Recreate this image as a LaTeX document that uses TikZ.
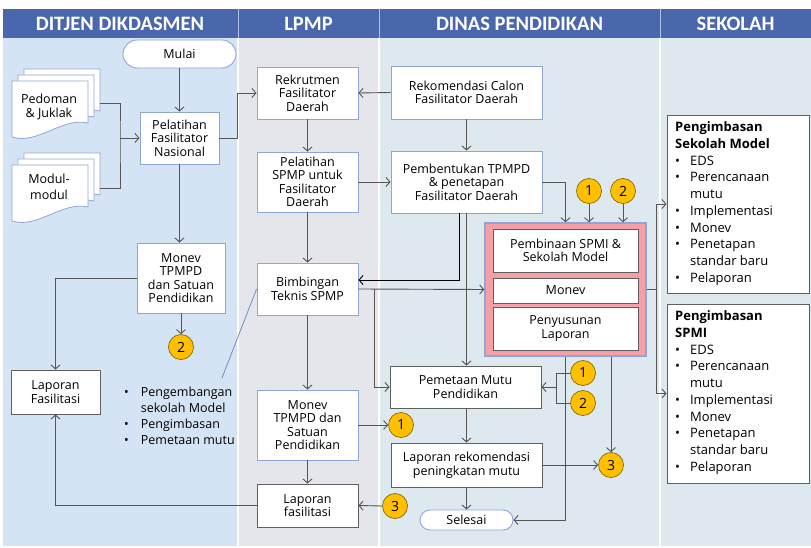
\documentclass[tikz,border=0pt]{standalone}
\usepackage{fontspec}
\setmainfont{Open Sans}
\newfontfamily\hdfont{Carlito}
\usetikzlibrary{arrows.meta,shapes.misc,calc}
\definecolor{hdr}{HTML}{4A66AC}
\definecolor{hdrsep}{HTML}{AFC0E4}
\definecolor{bgA}{HTML}{D5E4F5}
\definecolor{bgB}{HTML}{E4E6EB}
\definecolor{bgC}{HTML}{DDE9EE}
\definecolor{bbord}{HTML}{8FA5D5}
\definecolor{dbord}{HTML}{5F5F5F}
\definecolor{lgrey}{HTML}{555555}
\definecolor{gold}{HTML}{FFC000}
\definecolor{golddk}{HTML}{8C6A00}
\definecolor{pinkf}{HTML}{F5A0A6}
\definecolor{thinblue}{HTML}{6F8BC8}
\newcommand\docpage[2]{%
  \filldraw[fill=white,draw=bbord,line width=0.8pt] (#1,#2) -- ++(76,0) -- ++(0,42)
    .. controls ++(-26,-6) and ++(26,8) .. ++(-76,14) -- cycle;}
\begin{document}
\begin{tikzpicture}[x=1pt,y=-1pt,
  box/.style={draw=bbord,fill=white,line width=0.9pt,align=center,inner sep=0pt,
    font=\fontsize{12.5}{13.5}\selectfont},
  dbox/.style={box,draw=dbord},
  circ/.style={circle,fill=gold,draw=golddk,line width=0.7pt,minimum size=25pt,inner sep=0pt,
    font=\fontsize{14}{14}\selectfont},
  term/.style={rounded rectangle,draw=bbord,fill=white,line width=0.9pt,inner sep=0pt,
    font=\fontsize{12.5}{13.5}\selectfont},
  hd/.style={text=white,font=\hdfont\bfseries\fontsize{20.5}{20.5}\selectfont},
  ln/.style={draw=lgrey,line width=0.9pt},
  arr/.style={ln,-{Straight Barb[length=4pt,width=9pt]}},
  blist/.style={inner sep=0pt,anchor=north west,align=left}
]
\useasboundingbox (0,0) rectangle (811,548);
\fill[white] (0,0) rectangle (811,548);
% column backgrounds
\fill[bgA] (3,38) rectangle (237,546);
\fill[bgB] (239,38) rectangle (378,546);
\fill[bgC] (380,38) rectangle (659,546);
\fill[bgC] (661,38) rectangle (811,546);
% header
\fill[hdr] (3,9) rectangle (811,38);
\draw[hdrsep,line width=0.8pt] (238,9) -- (238,38) (379,9) -- (379,38) (660,9) -- (660,38);
\node[hd] (h1) at (120,23.5) {DITJEN DIKDASMEN};
\node[hd] (h2) at (308.5,23.5) {LPMP};
\node[hd] (h3) at (519.5,23.5) {DINAS PENDIDIKAN};
\node[hd] (h4) at (735.5,23.5) {SEKOLAH};

% documents
\docpage{24}{69}\docpage{18}{75}\docpage{12}{81}
\node[font=\fontsize{12.5}{14}\selectfont,align=center] (ped) at (49,107) {Pedoman\\\& Juklak};
\docpage{24}{153}\docpage{18}{159}\docpage{12}{165}
\node[font=\fontsize{12.5}{16}\selectfont,align=center] (mod) at (49,187) {Modul-\\modul};
\coordinate (pedR) at (100,103);
\coordinate (modR) at (100,188);
\coordinate (jx) at (120,138);

% DITJEN column
\node[term,minimum width=113pt,minimum height=28pt] (mulai) at (179.5,54) {Mulai};
\node[box,minimum width=79pt,minimum height=52pt] (pfn) at (179.5,138) {Pelatihan\\Fasilitator\\Nasional};
\node[box,minimum width=88pt,minimum height=70pt] (mon1) at (181,278) {Monev\\TPMPD\\dan Satuan\\Pendidikan};
\node[circ] (c2a) at (181,347) {2};
\node[dbox,minimum width=89pt,minimum height=44pt] (lapf) at (55.5,392) {Laporan\\Fasilitasi};
\node[blist,font=\fontsize{12.5}{16}\selectfont] (bl) at (124,385) {%
  \begin{tabular}{@{}l@{\hspace{12pt}}l@{}}
  \textbullet & Pengembangan\\ & sekolah Model\\ \textbullet & Pengimbasan\\ \textbullet & Pemetaan mutu
  \end{tabular}};
\coordinate (blt) at (222,378);

% LPMP column
\node[box,minimum width=101pt,minimum height=52pt] (rek) at (307.5,93) {Rekrutmen\\Fasilitator\\Daerah};
\node[box,minimum width=101pt,minimum height=60pt] (pspmp) at (307.5,182) {Pelatihan\\SPMP untuk\\Fasilitator\\Daerah};
\node[box,minimum width=101pt,minimum height=52pt] (bim) at (307.5,289) {Bimbingan\\Teknis SPMP};
\node[box,minimum width=101pt,minimum height=70pt] (mon2) at (307.5,425) {Monev\\TPMPD dan\\Satuan\\Pendidikan};
\node[dbox,minimum width=101pt,minimum height=43pt] (lap2) at (307.5,505.5) {Laporan\\fasilitasi};
\node[circ] (c1c) at (401,425) {1};
\node[circ] (c3b) at (395,506) {3};

% DINAS column
\node[box,minimum width=151pt,minimum height=53pt] (rekom) at (466.5,92.5) {Rekomendasi Calon\\Fasilitator Daerah};
\node[box,minimum width=151pt,minimum height=62pt] (pemb) at (466.5,182) {Pembentukan TPMPD\\\& penetapan\\Fasilitator Daerah};
\node[draw=bbord,fill=pinkf,line width=1.5pt,minimum width=161pt,minimum height=133pt,inner sep=0pt] (pink) at (565.5,289.5) {};
\node[dbox,minimum width=145pt,minimum height=43pt] (pbin) at (565.5,250.5) {Pembinaan SPMI \&\\Sekolah Model};
\node[dbox,minimum width=145pt,minimum height=25pt] (pmon) at (565.5,290.5) {Monev};
\node[dbox,minimum width=145pt,minimum height=43pt] (ppen) at (565.5,328.5) {Penyusunan\\Laporan};
\node[circ] (c1a) at (589,191) {1};
\node[circ] (c2b) at (623,191) {2};
\node[dbox,minimum width=151pt,minimum height=42pt] (pmt) at (465.5,387) {Pemetaan Mutu\\Pendidikan};
\node[circ] (c1b) at (583,373) {1};
\node[circ] (c2c) at (583,403) {2};
\node[dbox,minimum width=151pt,minimum height=44pt] (lrek) at (466.5,465) {Laporan rekomendasi\\peningkatan mutu};
\node[circ] (c3a) at (611,465) {3};
\node[term,minimum width=93pt,minimum height=20pt] (sel) at (466.5,520) {Selesai};

% SEKOLAH column
\node[dbox,minimum width=142pt,minimum height=178pt] (sm) at (738,204) {};
\node[dbox,minimum width=142pt,minimum height=179pt] (spmi) at (738,393.5) {};
\node[blist,font=\fontsize{13}{16.7}\selectfont] (smt) at (675,120) {%
  \begin{tabular}{@{}l@{\hspace{10pt}}l@{}}
  \multicolumn{2}{@{}l@{}}{\bfseries Pengimbasan}\\
  \multicolumn{2}{@{}l@{}}{\bfseries Sekolah Model}\\
  \textbullet & EDS\\ \textbullet & Perencanaan\\ & mutu\\ \textbullet & Implementasi\\
  \textbullet & Monev\\ \textbullet & Penetapan\\ & standar baru\\ \textbullet & Pelaporan
  \end{tabular}};
\node[blist,font=\fontsize{13}{16.7}\selectfont] (spt) at (675,309) {%
  \begin{tabular}{@{}l@{\hspace{10pt}}l@{}}
  \multicolumn{2}{@{}l@{}}{\bfseries Pengimbasan}\\
  \multicolumn{2}{@{}l@{}}{\bfseries SPMI}\\
  \textbullet & EDS\\ \textbullet & Perencanaan\\ & mutu\\ \textbullet & Implementasi\\
  \textbullet & Monev\\ \textbullet & Penetapan\\ & standar baru\\ \textbullet & Pelaporan
  \end{tabular}};

% connectors
\draw[arr] (mulai.south) -- (mulai.south |- pfn.north);
\draw[ln] (pedR) -| (jx) |- (modR);
\draw[arr] (jx) -- (pfn.west);
\draw[arr] (pfn.east) -- ++(18,0) |- (rek.west);
\draw[arr] (pfn.south) -- (pfn.south |- mon1.north);
\draw[arr] (mon1.south -| c2a) -- (c2a.north);
\draw[arr] (mon1.west) -| (lapf.north);
\draw[arr] (lap2.west) -| (lapf.south);
\draw[thinblue,line width=0.8pt] (blt) -- (bim.west);

\draw[arr] (rekom.west) -- (rek.east);
\draw[arr] (rek.south) -- (pspmp.north);
\draw[arr] (pspmp.east) -- (pemb.west);
\draw[arr] (pspmp.south) -- (bim.north);
\draw[arr] (bim.south) -- (mon2.north);
\draw[arr] (mon2.south) -- (lap2.north);
\draw[arr] (mon2.east) -- (c1c.west);
\draw[arr] (c3b.west) -- (lap2.east);

\draw[arr] (rekom.south) -- (pemb.north);
\draw[arr,draw=black] ([xshift=-7pt]pemb.south) |- ([yshift=9pt]bim.east);
\draw[arr] (pemb.south) -- (pemb.south |- pmt.north);
\draw[arr] (bim.east) -- (pink.west);
\coordinate (bj) at (374,289);
\draw[arr] (bj) |- (pmt.west);
\draw[arr] (pemb.east) -| (pink.north);
\draw[arr] (c1a.south) -- (c1a.south |- pink.north);
\draw[arr] (c2b.south) -- (c2b.south |- pink.north);
\coordinate (jr) at (656,289.5);
\draw[ln] (pink.east) -- (jr);
\draw[arr] (jr) |- (sm.west);
\draw[arr] (jr) |- (spmi.west);
\coordinate (jm) at (556,387);
\draw[ln] (c1b.west) -| (jm);
\draw[ln] (c2c.west) -| (jm);
\draw[arr] (jm) -- (pmt.east);
\draw[arr] (pmt.south -| lrek) -- (lrek.north);
\draw[arr] (lrek.east) -- (c3a.west);
\draw[arr] (lrek.south) -- (sel.north);
\draw[arr] (pink.south -| c3a) -- (c3a.north);
\draw[arr] (pink.south) |- (sel.east);
\end{tikzpicture}
\end{document}
